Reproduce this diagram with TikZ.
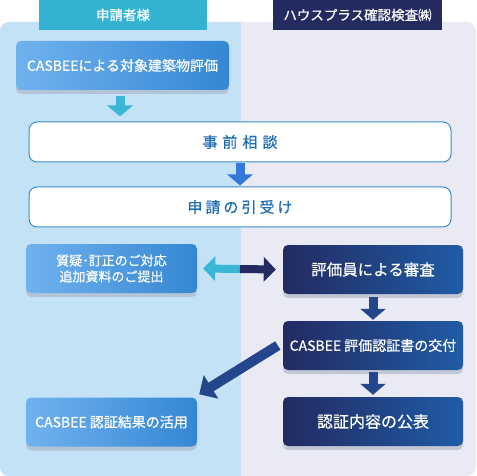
\documentclass[tikz,border=0pt]{standalone}
\usepackage{fontspec}
\setmainfont{Noto Sans CJK JP}[FakeBold=0.6]
\usetikzlibrary{arrows.meta,shadows}
\definecolor{bgleft}{HTML}{C4E2F5}
\definecolor{bgright}{HTML}{E9EAF4}
\definecolor{tealtab}{HTML}{33B3D1}
\definecolor{navytab}{HTML}{232B60}
\definecolor{skyleft}{HTML}{70B2EE}
\definecolor{skyright}{HTML}{3487D3}
\definecolor{navyleft}{HTML}{232A62}
\definecolor{navyright}{HTML}{1F5CA5}
\definecolor{stepline}{HTML}{3C8CD2}
\definecolor{steptext}{HTML}{1C6DB6}
\definecolor{tealarrow}{HTML}{3AB6D6}
\definecolor{bluearrow}{HTML}{3477D8}
\definecolor{navyarrow}{HTML}{24468C}
\definecolor{shadowgrey}{HTML}{A9B1C2}
\begin{document}
\begin{tikzpicture}[x=1pt,y=-1pt,
    tab/.style={minimum width=168pt,minimum height=30pt,inner sep=0pt,text=white,font=\fontsize{13.5}{16}\selectfont},
    card/.style={rounded corners=5pt,inner sep=0pt,minimum height=49pt,text=white,
      drop shadow={shadow xshift=0pt,shadow yshift=-4pt,fill=shadowgrey,opacity=0.6}},
    skybox/.style={card,left color=skyleft,right color=skyright,minimum width=171pt,font=\fontsize{14}{16}\selectfont},
    navybox/.style={card,left color=navyleft,right color=navyright,minimum width=180pt,font=\fontsize{15.5}{18}\selectfont},
    stepbox/.style={draw=stepline,line width=1pt,fill=white,rounded corners=8pt,minimum width=422pt,minimum height=40pt,
      text=steptext,font=\fontsize{15}{18}\selectfont},
    blockarrow/.style={line width=9pt,-{Triangle[width=25pt 0,length=11pt 0]}},
    pairarrow/.style={line width=8pt,-{Triangle[width=24pt 0,length=12pt 0]}}]
  \useasboundingbox (0,0) rectangle (477,476);
  % two columns
  \fill[bgright,rounded corners=9pt] (0,22) rectangle (476,476);
  \begin{scope}
    \clip[rounded corners=9pt] (0,22) rectangle (476,476);
    \fill[bgleft] (0,22) rectangle (241,476);
  \end{scope}
  \node[tab,fill=tealtab] (applicant) at (123,15) {申請者様};
  \node[tab,fill=navytab,minimum width=169pt] (inspector) at (357.5,15) {ハウスプラス確認検査㈱};
  % steps
  \node[skybox,minimum width=213pt] (evaluate) at (122.5,65.5) {CASBEEによる対象建築物評価};
  \node[stepbox] (consult) at (240,142) {事\hspace{5pt}前\hspace{5pt}相\hspace{5pt}談};
  \node[stepbox] (accept) at (240,207) {申\hspace{3pt}請\hspace{3pt}の\hspace{3pt}引\hspace{3pt}受\hspace{3pt}け};
  \node[skybox,align=center,font=\fontsize{13}{16}\selectfont] (reply) at (111.5,268.5) {質疑･訂正のご対応\\追加資料のご提出};
  \node[navybox] (review) at (373,269.5) {評価員による審査};
  \node[navybox,font=\fontsize{14}{16}\selectfont] (issue) at (373,345.5) {CASBEE 評価認証書の交付};
  \node[navybox,font=\fontsize{16}{18}\selectfont] (publish) at (373,421.5) {認証内容の公表};
  \node[skybox] (use) at (111.5,422) {CASBEE 認証結果の活用};
  % arrows
  \draw[blockarrow,tealarrow,shorten <=6pt,shorten >=5pt] ([xshift=-2.5pt]evaluate.south) -- ([xshift=-2.5pt]evaluate.south |- consult.north);
  \draw[blockarrow,bluearrow,shorten <=1pt,shorten >=1pt] (consult) -- (accept);
  \draw[blockarrow,navyarrow,shorten <=3pt,shorten >=1pt] (review) -- (issue);
  \draw[blockarrow,navyarrow,shorten <=2pt,shorten >=2pt] (issue) -- (publish);
  \coordinate (swap) at (240,269);
  \draw[pairarrow,tealarrow] (swap) -- ([xshift=6pt]reply.east);
  \draw[pairarrow,navytab] (swap) -- ([xshift=-7pt]review.west);
  \draw[navyarrow,line width=10pt,-{Triangle[width=27pt 0,length=14pt 0]}] ([xshift=-5pt]issue.west) -- ([shift={(2pt,3pt)}]use.north east);
\end{tikzpicture}
\end{document}
